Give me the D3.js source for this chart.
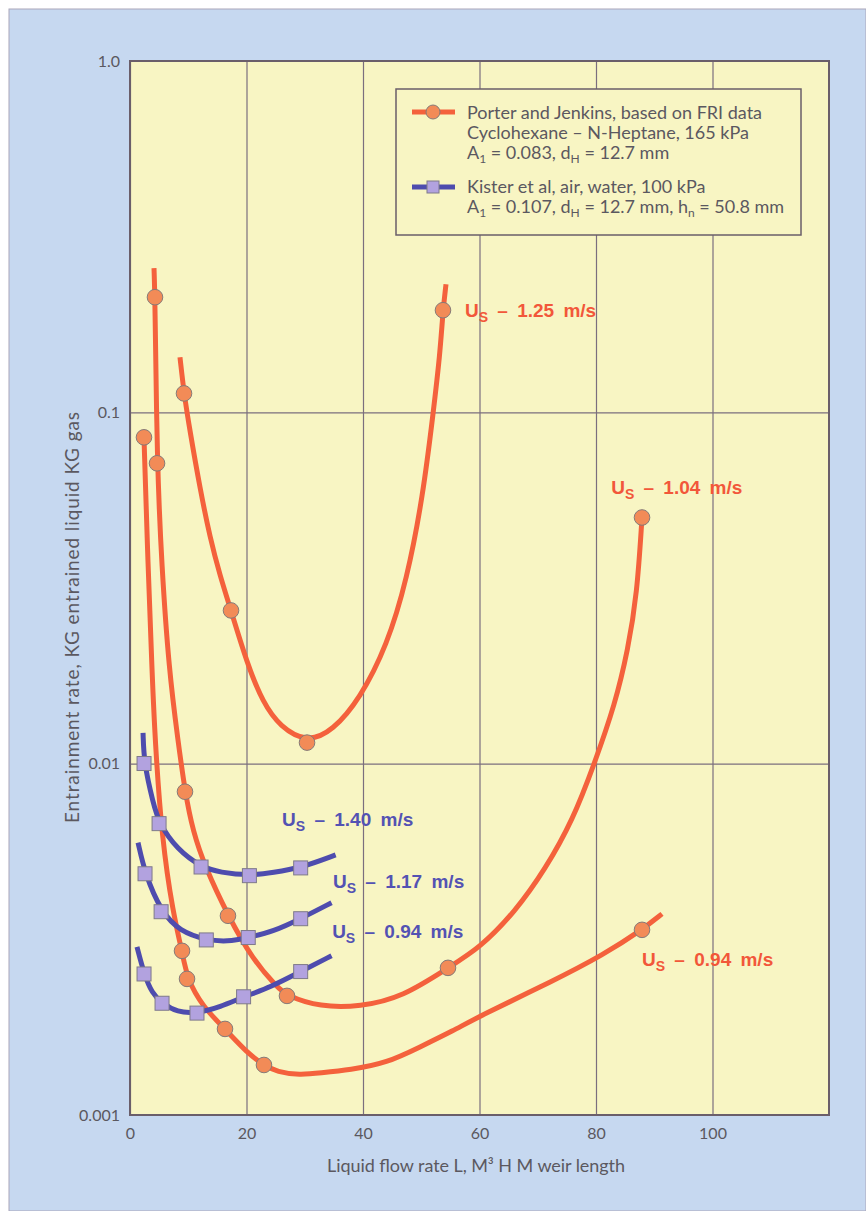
<!DOCTYPE html>
<html><head><meta charset="utf-8">
<script src="https://cdn.jsdelivr.net/npm/d3@7"></script>
<style>body{margin:0;background:#fff}</style>
</head><body><svg id="c" width="866" height="1211"></svg>
<script>
// ---- data ----
const xTicks = [0, 20, 40, 60, 80, 100];
const yTicks = [1, 0.1, 0.01, 0.001];
const yTickLabels = ["1.0", "0.1", "0.01", "0.001"];

// Porter & Jenkins (red) curves: line vertices read along each curve, and data markers
const porter125Line = [[8.58,0.1434],[9.27,0.1132],[10.30,0.0883],[12.02,0.0607],[13.73,0.0440],[15.45,0.0343],[17.34,0.0273],[20.09,0.0193],[22.83,0.0149],[25.75,0.01275],[30.39,0.01148],[34.85,0.01242],[39.48,0.01532],[44.12,0.02169],[47.55,0.03343],[50.30,0.0580],[52.02,0.0987],[53.22,0.1463],[53.73,0.1953],[54.25,0.2316]];
const porter125Marks = [[9.27,0.1132],[17.34,0.0273],[30.39,0.01148],[53.73,0.1953]];

const porter104Line = [[4.12,0.2572],[4.29,0.2127],[4.64,0.0716],[5.44,0.0366],[6.70,0.0184],[8.24,0.01163],[9.44,0.00832],[10.82,0.0064],[12.88,0.00509],[16.82,0.00369],[21.12,0.00276],[25.24,0.002315],[26.95,0.002183],[32.62,0.002031],[39.48,0.002031],[46.87,0.002169],[54.59,0.002623],[60.09,0.002991],[66.09,0.003787],[71.24,0.004989],[76.05,0.006928],[79.66,0.009936],[83.26,0.01473],[85.49,0.02113],[87.04,0.0303],[87.90,0.0502]];
const porter104Marks = [[4.29,0.2127],[4.64,0.0716],[9.44,0.00832],[16.82,0.00369],[26.95,0.002183],[54.59,0.002623],[87.90,0.0502]];

const porter094Line = [[2.40,0.0849],[3.09,0.0366],[3.78,0.0184],[4.29,0.0117],[5.49,0.00607],[7.38,0.00376],[8.93,0.002932],[9.79,0.00244],[12.53,0.002031],[16.31,0.001758],[20.09,0.001502],[23.00,0.001388],[25.24,0.001326],[29.18,0.0013],[32.62,0.001317],[37.77,0.001343],[44.12,0.001406],[49.79,0.001562],[55.45,0.001735],[60.09,0.001915],[72.62,0.002408],[81.20,0.002856],[87.90,0.003365],[91.33,0.003737]];
const porter094Marks = [[2.40,0.0849],[8.93,0.002932],[9.79,0.00244],[16.31,0.001758],[23.00,0.001388],[87.90,0.003365]];

// Kister et al (blue) curves
const kister140Line = [[2.24,0.01224],[2.41,0.01001],[3.96,0.00775],[4.99,0.00675],[8.1,0.0057],[12.2,0.00508],[15.5,0.0049],[20.5,0.0048],[24.6,0.0049],[29.3,0.00505],[35.3,0.0055]];
const kister140Marks = [[2.41,0.01001],[4.99,0.00675],[12.2,0.00508],[20.5,0.0048],[29.3,0.00505]];

const kister117Line = [[1.38,0.00596],[2.58,0.00486],[5.34,0.00379],[8.6,0.00333],[13.1,0.00315],[16.7,0.00311],[20.3,0.0032],[24.6,0.00333],[29.3,0.00362],[34.6,0.00402]];
const kister117Marks = [[2.58,0.00486],[5.34,0.00379],[13.1,0.00315],[20.3,0.0032],[29.3,0.00362]];

const kister094Line = [[1.2,0.00301],[2.41,0.00252],[3.79,0.00222],[5.5,0.00208],[8.1,0.00196],[11.5,0.00195],[15.5,0.00203],[19.5,0.00217],[24.1,0.00231],[29.3,0.00256],[34.6,0.00284]];
const kister094Marks = [[2.41,0.00252],[5.5,0.00208],[11.5,0.00195],[19.5,0.00217],[29.3,0.00256]];

// curve labels: [x, y, speed text, group]
const curveLabels = [
  [57.5, 0.1865, " – 1.25 m/s", "porter"],
  [82.6, 0.0584, " – 1.04 m/s", "porter"],
  [87.9, 0.002657, " – 0.94 m/s", "porter"],
  [26.1, 0.006658, " – 1.40 m/s", "kister"],
  [34.85, 0.004432, " – 1.17 m/s", "kister"],
  [34.7, 0.003193, " – 0.94 m/s", "kister"]
];

// ---- styles ----
const RED = "#f4613c", RED_FILL = "#f28b57", RED_TXT = "#f2573a";
const BLUE = "#4e4cae", BLUE_FILL = "#b2a2df", BLUE_TXT = "#5352b3";
const YEL = "#f8f5c3", BG = "#c6d8f0", GRID = "#7b6e7e", FRAME = "#6a5e6a";
const TXT = "#5b5860";

const svg = d3.select("#c");
svg.append("rect").attr("x", 9).attr("y", 9).attr("width", 866 - 9).attr("height", 1211 - 9)
  .attr("fill", BG).attr("stroke", "#aaa6ba").attr("stroke-width", 1);

const x = d3.scaleLinear().domain([0, 120]).range([130, 829]);
const y = d3.scaleLog().domain([0.001, 1]).range([1115, 61]);
const pw = x(120) - x(0), ph = y(0.001) - y(1);

svg.append("rect").attr("x", x(0)).attr("y", y(1)).attr("width", pw).attr("height", ph).attr("fill", YEL);

// grid + axes
const gx = svg.append("g").attr("transform", `translate(0,${y(0.001)})`)
  .call(d3.axisBottom(x).tickValues(xTicks).tickSizeInner(-ph).tickSizeOuter(0).tickPadding(13).tickFormat(d3.format("d")));
const gy = svg.append("g").attr("transform", `translate(${x(0)},0)`)
  .call(d3.axisLeft(y).tickValues(yTicks).tickSizeInner(-pw).tickSizeOuter(0).tickPadding(10).tickFormat((d, i) => yTickLabels[i]));
[gx, gy].forEach(g => {
  g.select(".domain").remove();
  g.selectAll(".tick line").attr("stroke", GRID).attr("stroke-width", 1.2);
  g.selectAll(".tick text").attr("fill", TXT).attr("font-family", "Lato, 'Open Sans', sans-serif").attr("font-size", 16);
});

svg.append("rect").attr("x", x(0)).attr("y", y(1)).attr("width", pw).attr("height", ph)
  .attr("fill", "none").attr("stroke", FRAME).attr("stroke-width", 2);

// axis titles
svg.append("text").attr("x", 327).attr("y", 1172)
  .attr("fill", TXT).attr("font-family", "Lato, sans-serif").attr("font-size", 18)
  .attr("textLength", 298).attr("lengthAdjust", "spacing")
  .text("Liquid flow rate L, M³ H M weir length");
svg.append("text").attr("transform", `translate(79,823) rotate(-90)`)
  .attr("fill", TXT).attr("font-family", "Lato, sans-serif").attr("font-size", 19)
  .attr("textLength", 411).attr("lengthAdjust", "spacing")
  .text("Entrainment rate, KG entrained liquid KG gas");

// curves
const line = d3.line().x(d => x(d[0])).y(d => y(d[1])).curve(d3.curveBasis);
const plotG = svg.append("g");
function drawLine(data, color, w) {
  plotG.append("path").datum(data).attr("d", line).attr("fill", "none")
    .attr("stroke", color).attr("stroke-width", w).attr("stroke-linecap", "butt");
}
[porter125Line, porter104Line, porter094Line].forEach(d => drawLine(d, RED, 5));
[kister140Line, kister117Line, kister094Line].forEach(d => drawLine(d, BLUE, 5));

[porter125Marks, porter104Marks, porter094Marks].forEach(m => {
  plotG.selectAll(null).data(m).enter().append("circle")
    .attr("cx", d => x(d[0])).attr("cy", d => y(d[1])).attr("r", 7.8)
    .attr("fill", RED_FILL).attr("stroke", "#857a78").attr("stroke-width", 1);
});
[kister140Marks, kister117Marks, kister094Marks].forEach(m => {
  plotG.selectAll(null).data(m).enter().append("rect")
    .attr("x", d => x(d[0]) - 7).attr("y", d => y(d[1]) - 7).attr("width", 14).attr("height", 14)
    .attr("fill", BLUE_FILL).attr("stroke", "#7f7a8a").attr("stroke-width", 1);
});

// curve labels
curveLabels.forEach(l => {
  const t = svg.append("text").attr("x", x(l[0])).attr("y", y(l[1]))
    .attr("fill", l[3] === "porter" ? RED_TXT : BLUE_TXT)
    .attr("font-family", "'Liberation Sans', Arial, sans-serif").attr("font-weight", "bold")
    .attr("font-size", 19).attr("word-spacing", 4);
  t.append("tspan").text("U");
  t.append("tspan").attr("font-size", 14).attr("dy", 5).text("S");
  t.append("tspan").attr("dy", -5).attr("xml:space", "preserve").text(l[2]);
});

// legend
const lg = svg.append("g");
lg.append("rect").attr("x", 396).attr("y", 89).attr("width", 405).attr("height", 146)
  .attr("fill", YEL).attr("stroke", FRAME).attr("stroke-width", 1.5);
lg.append("line").attr("x1", 412).attr("x2", 455).attr("y1", 112).attr("y2", 112).attr("stroke", RED).attr("stroke-width", 5);
lg.append("circle").attr("cx", 433).attr("cy", 112).attr("r", 7).attr("fill", RED_FILL).attr("stroke", "#857a78");
lg.append("line").attr("x1", 412).attr("x2", 455).attr("y1", 187).attr("y2", 187).attr("stroke", BLUE).attr("stroke-width", 5);
lg.append("rect").attr("x", 427).attr("y", 181).attr("width", 12).attr("height", 12).attr("fill", BLUE_FILL).attr("stroke", "#7f7a8a");

const legendLines = [
  [119, [["Porter and Jenkins, based on FRI data"]]],
  [139, [["Cyclohexane – N-Heptane, 165 kPa"]]],
  [159, [["A"], ["1", "sub"], [" = 0.083, d"], ["H", "sub"], [" = 12.7 mm"]]],
  [193, [["Kister et al, air, water, 100 kPa"]]],
  [213, [["A"], ["1", "sub"], [" = 0.107, d"], ["H", "sub"], [" = 12.7 mm, h"], ["n", "sub"], [" = 50.8 mm"]]]
];
legendLines.forEach(([yy, parts]) => {
  const t = lg.append("text").attr("x", 467).attr("y", yy).attr("fill", TXT)
    .attr("font-family", "Lato, sans-serif").attr("font-size", 18)
    .attr("xml:space", "preserve");
  let sub = false;
  parts.forEach(p => {
    const ts = t.append("tspan").text(p[0]);
    if (p[1] === "sub") { ts.attr("font-size", 12).attr("dy", sub ? 0 : 4); sub = true; }
    else if (sub) { ts.attr("dy", -4); sub = false; }
  });
});
</script></body></html>
